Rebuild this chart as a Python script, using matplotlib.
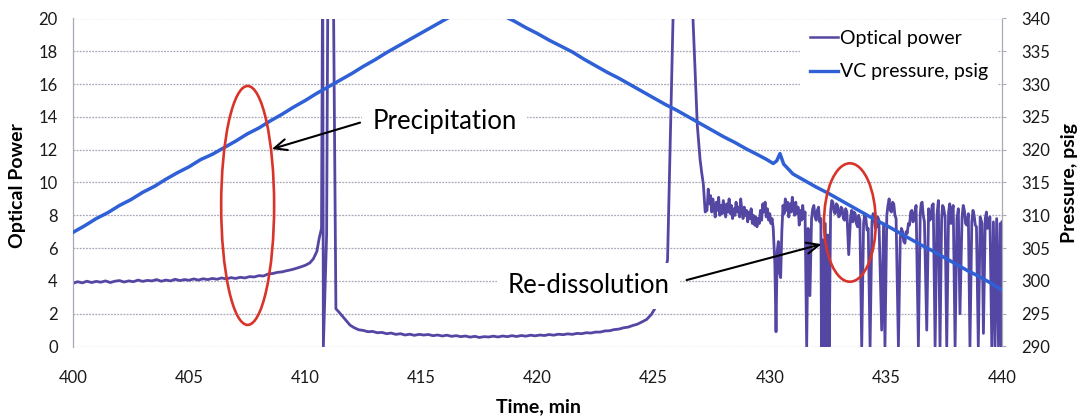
import matplotlib
matplotlib.use('Agg')
import matplotlib.pyplot as plt
from matplotlib.patches import Ellipse
from matplotlib.lines import Line2D

plt.rcParams['font.family'] = ['Lato', 'DejaVu Sans']

# ── Optical power (left axis) ───────────────────────────────────────────────
# slow rise before precipitation
rise_time = [400.0, 400.2, 400.4, 400.6, 400.8, 401.0, 401.2, 401.4, 401.6, 401.8,
             402.0, 402.2, 402.4, 402.6, 402.8, 403.0, 403.2, 403.4, 403.6, 403.8,
             404.0, 404.2, 404.4, 404.6, 404.8, 405.0, 405.2, 405.4, 405.6, 405.8,
             406.0, 406.2, 406.4, 406.6, 406.8, 407.0, 407.2, 407.4, 407.6, 407.8,
             408.0, 408.2, 408.4, 408.6, 408.8, 409.0, 409.2, 409.4, 409.6, 409.8,
             410.0, 410.2, 410.35, 410.5, 410.6, 410.7]
rise_power = [3.85, 3.95, 3.88, 3.98, 3.9, 3.97, 3.92, 4.0, 3.9, 3.98,
              4.02, 3.93, 4.0, 3.95, 4.05, 3.97, 4.03, 4.0, 4.08, 3.98,
              4.05, 4.0, 4.1, 4.02, 4.08, 4.04, 4.12, 4.05, 4.13, 4.08,
              4.15, 4.1, 4.18, 4.12, 4.2, 4.15, 4.22, 4.18, 4.26, 4.24,
              4.32, 4.3, 4.42, 4.45, 4.52, 4.55, 4.62, 4.68, 4.76, 4.85,
              4.95, 5.1, 5.35, 5.8, 6.6, 7.2]

# first spike and the low plateau up to re-dissolution
low_time = [410.75, 410.78, 410.92, 410.98, 411.2, 411.32, 411.45, 411.57, 411.75, 411.93,
            412.1, 412.3, 412.5, 412.7, 412.9, 413.1, 413.3, 413.5, 413.7, 413.9,
            414.1, 414.3, 414.5, 414.7, 414.9, 415.1, 415.3, 415.5, 415.7, 415.9,
            416.1, 416.3, 416.5, 416.7, 416.9, 417.1, 417.3, 417.5, 417.7, 417.9,
            418.1, 418.3, 418.5, 418.7, 418.9, 419.1, 419.3, 419.5, 419.7, 419.9,
            420.1, 420.3, 420.5, 420.7, 420.9, 421.1, 421.3, 421.5, 421.7, 421.9,
            422.1, 422.3, 422.5, 422.7, 422.9, 423.1, 423.3, 423.5, 423.7, 423.9,
            424.1, 424.3, 424.5, 424.7, 424.9, 425.05, 425.2, 425.4, 425.6]
low_power = [24.0, 0.0, 6.8, 24.0, 24.0, 2.3, 2.1, 1.9, 1.6, 1.3,
             1.15, 1.02, 0.98, 0.9, 0.92, 0.84, 0.86, 0.78, 0.82, 0.74,
             0.78, 0.7, 0.75, 0.68, 0.74, 0.7, 0.73, 0.66, 0.7, 0.64,
             0.69, 0.62, 0.66, 0.6, 0.64, 0.57, 0.62, 0.55, 0.6, 0.58,
             0.63, 0.58, 0.64, 0.6, 0.66, 0.61, 0.67, 0.63, 0.69, 0.65,
             0.7, 0.67, 0.73, 0.69, 0.75, 0.72, 0.77, 0.74, 0.8, 0.78,
             0.84, 0.82, 0.88, 0.88, 0.95, 0.96, 1.03, 1.06, 1.14, 1.18,
             1.28, 1.36, 1.5, 1.65, 1.95, 2.3, 2.7, 3.7, 5.3]

# second spike and the noisy region after re-dissolution
noisy_time = [425.9, 426.58, 426.88, 427.0, 427.07, 427.14, 427.22,
              427.30, 427.35, 427.40, 427.45, 427.50, 427.55, 427.60, 427.65, 427.70, 427.75,
              427.80, 427.85, 427.90, 427.95, 428.00, 428.05, 428.10, 428.15, 428.20, 428.25,
              428.30, 428.35, 428.40, 428.45, 428.50, 428.55, 428.60, 428.65, 428.70, 428.75,
              428.80, 428.85, 428.90, 428.95, 429.00, 429.05, 429.10, 429.15, 429.20, 429.25,
              429.30, 429.35, 429.40, 429.45, 429.50, 429.55, 429.60, 429.65, 429.70, 429.75,
              429.80, 429.85, 429.90, 429.95, 430.00, 430.05, 430.10, 430.15, 430.22, 430.27,
              430.32, 430.37, 430.42, 430.47, 430.52, 430.57, 430.62, 430.67, 430.72, 430.77,
              430.82, 430.87, 430.92, 430.97, 431.02, 431.07, 431.12, 431.17, 431.22, 431.27,
              431.32, 431.37, 431.42, 431.47, 431.52, 431.59, 431.65, 431.73, 431.80, 431.85,
              431.90, 431.95, 432.00, 432.05, 432.10, 432.15, 432.20, 432.23, 432.28, 432.33,
              432.39, 432.45, 432.50, 432.56, 432.62, 432.67, 432.72, 432.77, 432.82, 432.87,
              432.92, 432.97, 433.02, 433.07, 433.12, 433.17, 433.22, 433.27, 433.32, 433.40,
              433.48, 433.53, 433.58, 433.63, 433.68, 433.73, 433.78, 433.83, 433.88, 433.96,
              434.04, 434.09, 434.14, 434.19, 434.24, 434.32, 434.40, 434.45, 434.50, 434.55,
              434.60, 434.65, 434.70, 434.82, 434.90, 434.96, 435.04, 435.09, 435.14, 435.19,
              435.24, 435.29, 435.34, 435.39, 435.44, 435.54, 435.62, 435.67, 435.72, 435.77,
              435.82, 435.87, 435.92, 435.97, 436.02, 436.07, 436.12, 436.17, 436.22, 436.30,
              436.40, 436.48, 436.52, 436.56, 436.61, 436.66, 436.76, 436.84, 436.89, 436.94,
              436.99, 437.04, 437.12, 437.20, 437.26, 437.33, 437.40, 437.44, 437.48, 437.55,
              437.62, 437.70, 437.75, 437.80, 437.85, 437.90, 437.98, 438.06, 438.12, 438.19,
              438.28, 438.33, 438.38, 438.43, 438.48, 438.55, 438.62, 438.70, 438.75, 438.80,
              438.85, 438.90, 438.98, 439.06, 439.14, 439.20, 439.28, 439.33, 439.38, 439.43,
              439.48, 439.56, 439.63, 439.70, 439.77, 439.85, 439.92, 439.98, 440.0]
noisy_power = [24.0, 24.0, 13.5, 11.4, 10.6, 9.9, 8.2,
               8.3, 9.6, 8.7, 9.2, 8.2, 9.0, 8.5, 7.9, 8.8, 8.3,
               9.1, 8.0, 8.6, 8.1, 8.9, 8.4, 7.9, 8.7, 8.2, 9.0,
               8.1, 8.6, 7.8, 8.4, 8.0, 8.8, 8.2, 8.5, 7.9, 9.0,
               8.3, 7.8, 8.5, 8.0, 8.3, 7.6, 8.2, 7.8, 8.4, 7.5,
               8.0, 7.4, 7.9, 7.3, 7.8, 7.5, 8.3, 7.7, 8.7, 8.2,
               8.8, 7.9, 8.4, 7.7, 8.1, 7.5, 7.8, 7.2, 5.0, 0.9,
               5.8, 6.4, 4.5, 4.2, 7.0, 8.6, 8.1, 9.0, 8.3, 8.8,
               7.9, 8.7, 8.2, 9.1, 8.4, 8.0, 8.8, 8.1, 8.5, 7.4,
               8.3, 7.7, 8.6, 7.8, 8.2, 0.0, 7.2, 3.1, 7.8, 8.4,
               8.6, 7.9, 7.7, 8.3, 8.5, 7.6, 7.8, 0.0, 6.5, 0.0,
               7.5, 0.0, 6.8, 0.0, 8.2, 8.9, 8.8, 8.2, 8.1, 8.7,
               8.6, 7.9, 8.0, 8.5, 8.4, 7.8, 7.7, 8.4, 8.2, 5.6,
               7.9, 8.3, 7.6, 8.2, 8.1, 7.5, 7.3, 8.0, 7.7, 0.0,
               7.5, 8.1, 7.8, 7.1, 7.2, 0.0, 7.6, 8.1, 7.9, 7.2,
               7.3, 7.9, 7.7, 1.0, 7.4, 0.0, 8.0, 8.6, 9.0, 8.3,
               8.2, 8.8, 8.7, 8.0, 7.8, 0.0, 6.6, 7.2, 7.0, 6.4,
               6.3, 7.0, 6.9, 7.5, 7.4, 8.2, 8.3, 7.6, 7.9, 8.6,
               0.0, 8.1, 8.7, 8.8, 8.0, 7.6, 1.0, 8.4, 7.7, 7.8,
               8.6, 8.7, 0.0, 8.0, 8.9, 0.0, 7.7, 8.6, 8.5, 7.9,
               0.0, 8.2, 8.7, 7.5, 8.3, 8.6, 0.0, 7.8, 8.4, 2.0,
               7.9, 8.6, 8.3, 7.5, 7.4, 8.1, 0.0, 7.6, 8.3, 8.0,
               7.4, 7.3, 0.0, 7.9, 7.5, 0.8, 7.8, 8.2, 7.2, 7.7,
               7.9, 0.0, 7.6, 0.0, 7.8, 0.0, 7.5, 0.0, 7.6]

opt_time = rise_time + low_time + noisy_time
opt_power = rise_power + low_power + noisy_power

# ── VC pressure (right axis) ────────────────────────────────────────────────
press_time = [400.0, 400.5, 401.0, 401.5, 402.0, 402.5, 403.0, 403.5, 404.0, 404.5,
              405.0, 405.5, 406.0, 406.5, 407.0, 407.5, 408.0, 408.5, 409.0, 409.5,
              410.0, 410.5, 411.0, 411.5, 412.0, 412.5, 413.0, 413.5, 414.0, 414.5,
              415.0, 415.5, 416.0, 416.5, 417.0, 417.4, 417.8, 418.2, 418.6, 419.0,
              419.5, 420.0, 420.5, 421.0, 421.5, 422.0, 422.5, 423.0, 423.5, 424.0,
              424.5, 425.0, 425.5, 426.0, 426.5, 427.0, 427.5, 428.0, 428.5, 429.0,
              429.5, 429.87, 430.15, 430.3, 430.44, 430.6, 431.0, 431.5, 432.0, 432.5,
              433.0, 433.5, 434.0, 434.5, 435.0, 435.5, 436.0, 436.5, 437.0, 437.5,
              438.0, 438.5, 439.0, 439.5, 440.0]
press_psig = [307.4, 308.4, 309.5, 310.4, 311.5, 312.4, 313.5, 314.4, 315.5, 316.5,
              317.4, 318.5, 319.3, 320.3, 321.3, 322.4, 323.3, 324.4, 325.4, 326.5,
              327.5, 328.6, 329.6, 330.6, 331.6, 332.7, 333.7, 334.8, 335.8, 336.8,
              337.8, 338.8, 339.8, 340.8, 341.6, 342.0, 341.7, 341.1, 340.3, 339.6,
              338.6, 337.7, 336.7, 335.8, 334.9, 333.8, 332.8, 331.8, 330.9, 329.9,
              328.9, 327.9, 326.9, 326.0, 325.0, 324.0, 323.0, 322.0, 321.1, 320.1,
              319.2, 318.5, 317.9, 318.3, 319.4, 317.8, 316.3, 315.3, 314.3, 313.4,
              312.4, 311.4, 310.4, 309.4, 308.5, 307.5, 306.5, 305.5, 304.6, 303.6,
              302.6, 301.6, 300.7, 299.7, 298.6]

x_ticks = [400, 405, 410, 415, 420, 425, 430, 435, 440]
left_ticks = [0, 2, 4, 6, 8, 10, 12, 14, 16, 18, 20]
right_ticks = [290, 295, 300, 305, 310, 315, 320, 325, 330, 335, 340]

OPT_C = '#5446a3'
PRESS_C = '#2f60d6'
RED = '#d8342a'
GRID_C = '#a9a9b8'

W, H = 1079, 418
fig = plt.figure(figsize=(W / 100, H / 100), dpi=100)
fig.patch.set_facecolor('white')
ax = fig.add_axes([73 / W, (H - 346.5) / H, (1002 - 73) / W, 328 / H])
ax2 = ax.twinx()

ax.plot(opt_time, opt_power, color=OPT_C, lw=2.0, solid_joinstyle='round')
ax2.plot(press_time, press_psig, color=PRESS_C, lw=2.5, solid_joinstyle='round')

ax.set_xlim(400, 440)
ax.set_ylim(0, 20)
ax2.set_ylim(290, 340)
ax.set_xticks(x_ticks)
ax.set_yticks(left_ticks)
ax2.set_yticks(right_ticks)

ax.yaxis.grid(True, color=GRID_C, lw=0.9, linestyle=(0, (1.5, 1)))
ax.set_axisbelow(True)

for a in (ax, ax2):
    for s in a.spines.values():
        s.set_visible(False)
ax.spines['left'].set_visible(True)
ax.spines['left'].set_color(GRID_C)
ax.spines['left'].set_linestyle((0, (1.5, 1)))
ax.spines['left'].set_linewidth(0.9)
ax2.spines['right'].set_visible(True)
ax2.spines['right'].set_color(GRID_C)
ax2.spines['right'].set_linestyle((0, (1.5, 1)))
ax2.spines['right'].set_linewidth(0.9)

ax.tick_params(axis='x', length=0, pad=17, labelsize=12, labelcolor='#1a1a1a')
ax.tick_params(axis='y', length=0, pad=11, labelsize=12, labelcolor='#1a1a1a')
ax2.tick_params(axis='y', length=3, width=0.8, color=GRID_C, pad=11,
                labelsize=12, labelcolor='#1a1a1a')

# axis titles
fig.text(18 / W, 1 - 186 / H, 'Optical Power', rotation=90, ha='center', va='center',
         fontsize=14, fontweight='bold')
fig.text(1070 / W, 1 - 183 / H, 'Pressure, psig', rotation=90, ha='center', va='center',
         fontsize=14, fontweight='bold')
fig.text(538 / W, 1 - 407 / H, 'Time, min', ha='center', va='center',
         fontsize=14, fontweight='bold')

# legend
handles = [Line2D([], [], color=OPT_C, lw=1.8), Line2D([], [], color=PRESS_C, lw=2.4)]
leg = ax2.legend(handles, ['Optical power', 'VC pressure, psig'], loc='upper left',
                 bbox_to_anchor=(0.7826, 0.995), fontsize=14, frameon=True,
                 handlelength=1.45, handletextpad=0.1, labelspacing=0.85,
                 borderpad=0.5, borderaxespad=0)
leg.get_frame().set_facecolor('white')
leg.get_frame().set_edgecolor('none')
leg.get_frame().set_alpha(1)

# ellipses
for cx, cy, ew, eh in [(407.52, 8.6, 2.28, 14.57), (433.45, 7.56, 2.23, 7.22)]:
    ax2.add_patch(Ellipse((cx, cy), ew, eh, transform=ax.transData, fill=False,
                          ec=RED, lw=1.9, zorder=6))

# annotation arrows and labels
arrow_kw = dict(arrowstyle='->,head_length=0.45,head_width=0.2', color='black',
                lw=1.5, shrinkA=0, shrinkB=0, mutation_scale=20)
ax2.annotate('', xy=(408.56, 12.04), xycoords=ax.transData,
             xytext=(412.36, 13.65), textcoords=ax.transData,
             arrowprops=arrow_kw, zorder=7)
ax2.annotate('', xy=(432.23, 6.24), xycoords=ax.transData,
             xytext=(426.42, 4.05), textcoords=ax.transData,
             arrowprops=arrow_kw, zorder=7)

box = dict(boxstyle='square,pad=0.4', fc='white', ec='none')
ax2.text(416.0, 13.75, 'Precipitation', transform=ax.transData, ha='center',
         va='center', fontsize=18.5, bbox=box, zorder=5)
ax2.text(422.2, 3.69, 'Re-dissolution', transform=ax.transData, ha='center',
         va='center', fontsize=18.5, bbox=box, zorder=5)

fig.savefig('out.png', dpi=100, facecolor='white')
